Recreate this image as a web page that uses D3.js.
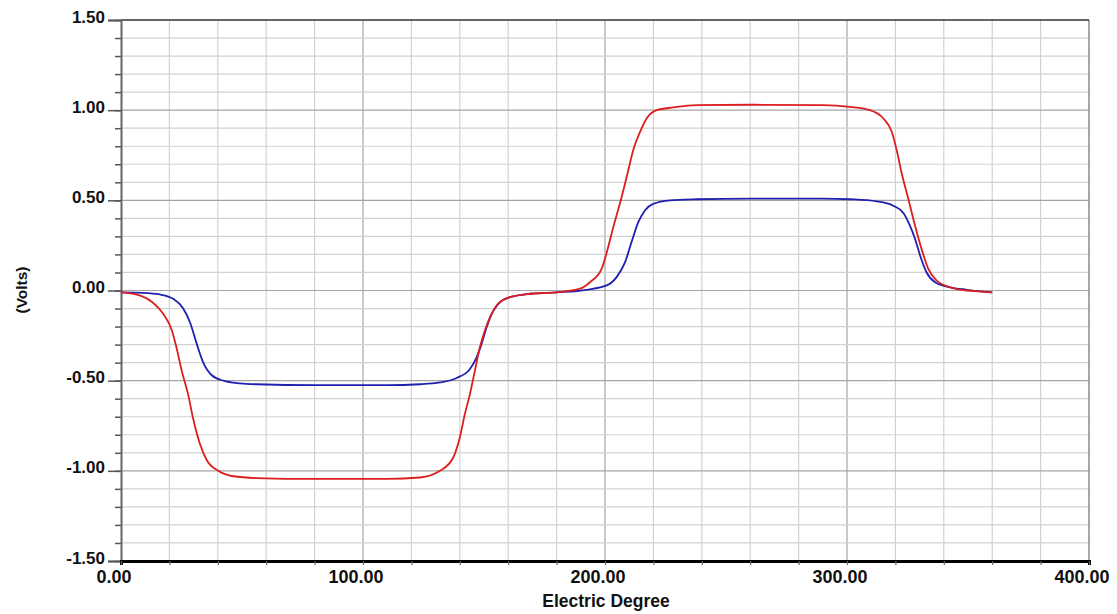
<!DOCTYPE html>
<html>
<head>
<meta charset="utf-8">
<script src="https://cdn.jsdelivr.net/npm/d3@7"></script>
<style>
  html, body { margin: 0; padding: 0; background: #fff; }
  svg { display: block; }
  text { font-family: "Liberation Sans", Arial, sans-serif; font-weight: bold; fill: #111; }
</style>
</head>
<body>
<svg id="chart" width="1117" height="614"></svg>
<script>
// ---- data ----
const xTickLabels = [0, 100, 200, 300, 400];
const yTickLabels = [-1.5, -1.0, -0.5, 0.0, 0.5, 1.0, 1.5];

const redDeg = [0, 8, 13, 17.5, 21, 23, 25, 27.8, 29.8, 32.6, 35.4, 40.2, 46.4, 56, 80, 110, 123.6, 131.8, 137.3, 140, 142.1, 144.2, 146.3, 148.3, 150.4, 152.5, 155.2, 160.7, 169, 180, 189.7, 193.8, 198.6, 200.7, 203.4, 206.9, 209.6, 211.7, 214.5, 217.2, 221.4, 228.2, 237.9, 260, 290, 301.2, 309.5, 315, 318.5, 320.5, 322.6, 325.3, 328.1, 330.8, 333.6, 337, 342.6, 349.5, 355, 360];
const redVolts = [-0.01, -0.028, -0.065, -0.13, -0.22, -0.32, -0.44, -0.58, -0.71, -0.85, -0.94, -1.0, -1.03, -1.04, -1.045, -1.045, -1.037, -1.0, -0.926, -0.815, -0.685, -0.574, -0.44, -0.315, -0.22, -0.148, -0.083, -0.037, -0.018, -0.01, 0.01, 0.046, 0.12, 0.21, 0.35, 0.52, 0.665, 0.78, 0.88, 0.954, 1.0, 1.015, 1.028, 1.03, 1.028, 1.018, 1.0, 0.954, 0.88, 0.78, 0.65, 0.51, 0.36, 0.23, 0.12, 0.056, 0.018, 0.0, -0.005, -0.01];

const blueDeg = [0, 9.2, 16, 21.6, 25.7, 28.5, 31.3, 34, 37.5, 42.3, 49.2, 56, 80, 110, 123.6, 131.8, 138.7, 144.2, 147, 149, 151.1, 153.2, 155.9, 160.7, 169, 180, 192.4, 200.7, 204.8, 208.3, 211, 213.8, 216.5, 219.9, 226.9, 237.9, 260, 290, 301.2, 312.3, 319.1, 323.3, 326, 328.1, 330.2, 332.9, 336.4, 342.6, 349.5, 355, 360];
const blueVolts = [-0.01, -0.013, -0.022, -0.046, -0.10, -0.176, -0.296, -0.40, -0.47, -0.50, -0.515, -0.52, -0.525, -0.525, -0.52, -0.51, -0.485, -0.435, -0.37, -0.296, -0.204, -0.13, -0.074, -0.037, -0.018, -0.01, 0.004, 0.028, 0.074, 0.157, 0.27, 0.38, 0.444, 0.48, 0.5, 0.506, 0.51, 0.51, 0.506, 0.494, 0.47, 0.43, 0.36, 0.287, 0.194, 0.1, 0.046, 0.018, 0.004, -0.005, -0.01];

// ---- layout ----
const svg = d3.select("#chart");
const mLeft = 121, mRight = 1089, mTop = 20, mBottom = 561;
const x = d3.scaleLinear().domain([0, 400]).range([mLeft, mRight]);
const y = d3.scaleLinear().domain([-1.5, 1.5]).range([mBottom, mTop]);
const fmt = v => d3.format(".2f")(v).replace("\u2212", "-");

const xMinor = d3.range(0, 401, 20);
const yMinor = d3.range(-15, 16, 1).map(v => v / 10);

// grid
const grid = svg.append("g");
grid.selectAll("line.vx").data(xMinor.filter(d => d > 0 && d < 400)).join("line")
  .attr("x1", d => x(d)).attr("x2", d => x(d)).attr("y1", mTop).attr("y2", mBottom)
  .attr("stroke", d => d % 100 === 0 ? "#a4a4a4" : "#d2d2d2").attr("stroke-width", 1.2);
grid.selectAll("line.hy").data(yMinor.filter(d => d > -1.5 && d < 1.5)).join("line")
  .attr("x1", mLeft).attr("x2", mRight).attr("y1", d => y(d)).attr("y2", d => y(d))
  .attr("stroke", d => Math.abs(Math.round(d * 10) % 5) === 0 ? "#a4a4a4" : "#d2d2d2").attr("stroke-width", 1.2);

// right border, top border
svg.append("line").attr("x1", x(400)).attr("x2", x(400)).attr("y1", mTop).attr("y2", mBottom)
  .attr("stroke", "#8a8a8a").attr("stroke-width", 1.5);
svg.append("line").attr("x1", mLeft).attr("x2", mRight).attr("y1", y(1.5)).attr("y2", y(1.5))
  .attr("stroke", "#333").attr("stroke-width", 1.5);

// y axis: minor ticks
const yMinorAxis = svg.append("g").attr("transform", `translate(${mLeft},0)`)
  .call(d3.axisLeft(y).tickValues(yMinor).tickSize(6).tickFormat(""));
yMinorAxis.select(".domain").remove();
yMinorAxis.selectAll("line").attr("stroke", "#555").attr("stroke-width", 1.5);

// y axis: major ticks + labels
const yAxis = svg.append("g").attr("transform", `translate(${mLeft},0)`)
  .call(d3.axisLeft(y).tickValues(yTickLabels).tickSize(13).tickPadding(3).tickFormat(fmt));
yAxis.select(".domain").attr("stroke", "#666").attr("stroke-width", 2);
yAxis.selectAll("line").attr("stroke", "#555").attr("stroke-width", 1.5);
yAxis.selectAll("text").attr("font-size", 17).attr("font-weight", "bold")
  .attr("font-family", "Liberation Sans, Arial, sans-serif").attr("fill", "#111").attr("dy", "0.12em");

// x axis
const xAxis = svg.append("g").attr("transform", `translate(0,${mBottom})`)
  .call(d3.axisBottom(x).tickValues(xMinor).tickSize(4).tickFormat(""));
xAxis.select(".domain").attr("stroke", "#000").attr("stroke-width", 3);
xAxis.selectAll("line").attr("stroke", "#666").attr("stroke-width", 1.2);

svg.append("g").selectAll("text").data(xTickLabels).join("text")
  .attr("x", d => x(d) - 7).attr("y", 583)
  .attr("text-anchor", "middle").attr("font-size", 18)
  .text(d => fmt(d));

// axis titles
svg.append("text").attr("x", 606).attr("y", 607).attr("text-anchor", "middle")
  .attr("font-size", 17.5).text("Electric Degree");
svg.append("text").attr("transform", "translate(27,290) rotate(-90)").attr("text-anchor", "middle")
  .attr("font-size", 15.5).text("(Volts)");

// lines
const line = d3.line().x(d => x(d[0])).y(d => y(d[1])).curve(d3.curveMonotoneX);
const series = [
  { deg: blueDeg, volts: blueVolts, color: "#2020b0" },
  { deg: redDeg, volts: redVolts, color: "#dc1e1e" }
];
svg.append("g").selectAll("path").data(series).join("path")
  .attr("d", s => line(d3.zip(s.deg, s.volts)))
  .attr("fill", "none").attr("stroke", s => s.color).attr("stroke-width", 1.8);
</script>
</body>
</html>
